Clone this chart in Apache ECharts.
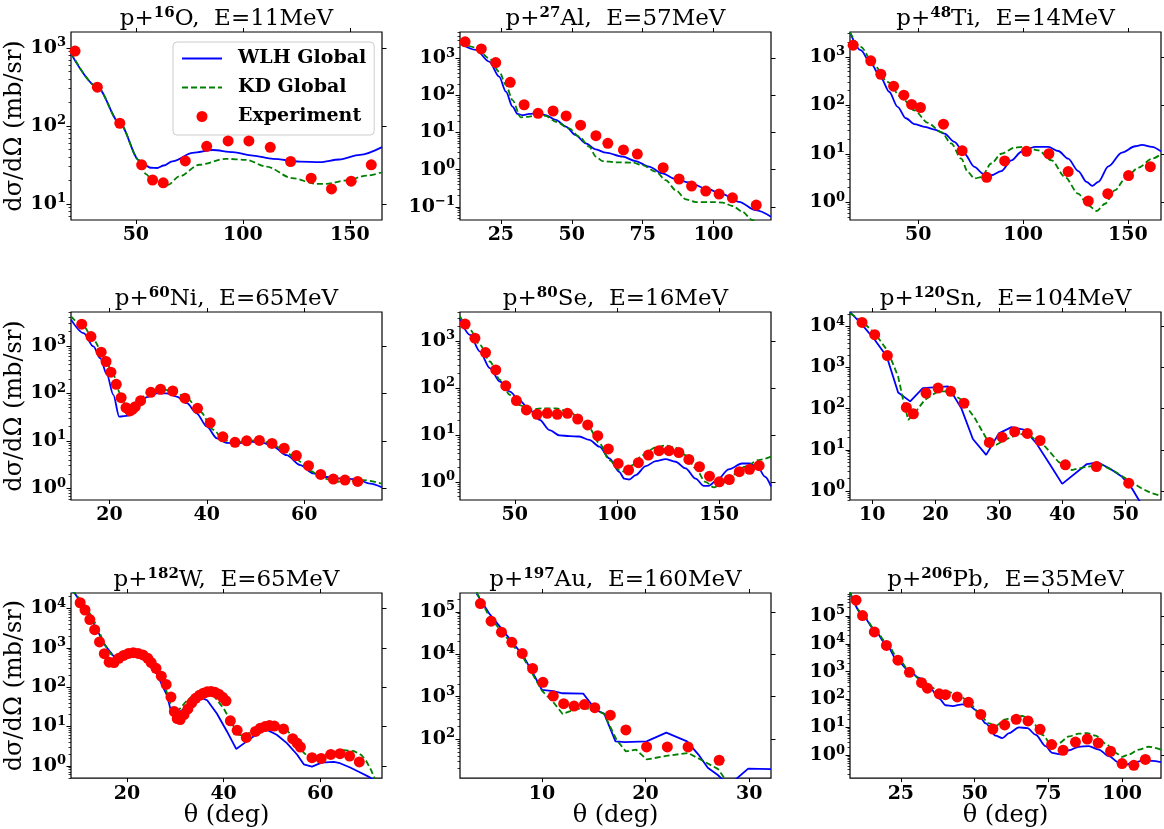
<!DOCTYPE html>
<html><head><meta charset="utf-8">
<script src="https://cdn.jsdelivr.net/npm/echarts@6/dist/echarts.min.js"></script>
<style>html,body{margin:0;padding:0;background:#fff}#c{width:1164px;height:829px}</style>
</head><body><div id="c"></div>
<script>
// ---------- data: [theta (deg), dsigma/dOmega (mb/sr)] ----------
const O16_wlh = [[19.7,845],[32,314],[42.5,108],[51.6,36],[54,31.5],[57,29],[60,28.8],[63,31],[67,35],[76.6,45],[86,49],[95.3,46],[104.7,41.6],[114,37.8],[126.6,34.7],[136,34.3],[145,37],[154.7,42.5],[165,53.4]];
const O16_kd  = [[19.7,870],[32,314],[42.5,108],[51.6,36],[54.7,24],[58,19.5],[62,17.3],[65,17.5],[70.3,22.5],[79.7,31.7],[92,37.8],[101.5,36.6],[111,30],[123,21.4],[134.4,18],[139,18],[148.4,20],[157.8,23],[165,25.4]];
const O16_exp = [[21.6,910],[32.0,314],[42.5,108],[52.7,31.6],[57.8,20.2],[62.8,18.6],[73.1,35.5],[83.1,54.6],[93.1,64],[102.8,64],[112.8,53],[122.3,34.9],[131.9,21.3],[141.4,15.5],[150.6,19.5],[160,31.6]];

const Al_wlh = [[10.6,2540],[16.2,1680],[20.9,815],[24.4,320],[26.8,126],[29.1,50],[30.9,31.6],[32.6,29.5],[35,31.6],[37.9,32.9],[40.8,29.5],[44.4,21.8],[47.9,14.5],[51.4,8.5],[54.9,5.1],[58.5,3.5],[62,2.86],[67.9,2.24],[72.5,1.7],[77.2,1.2],[81.9,0.79],[86.6,0.557],[91.3,0.45],[97.2,0.31],[103.1,0.22],[108.9,0.136],[114.8,0.081],[120.2,0.054]];
const Al_kd  = [[10.6,2700],[16.2,1940],[20.9,1000],[24.4,437],[26.8,190],[29.1,75],[32,25.7],[34.4,26.5],[37.9,29.5],[40.8,27.9],[44.4,19.5],[49.1,12.9],[52.6,7.7],[56.1,4.2],[58.5,2.24],[60.8,1.7],[65.5,1.57],[71.4,1.55],[74.9,1.33],[79.6,0.88],[83.1,0.52],[86.6,0.28],[90.2,0.158],[93.7,0.134],[99.5,0.134],[103.1,0.13],[106.6,0.105],[110.1,0.074],[113.6,0.044],[115,0.035]];
const Al_exp = [[12.4,2770],[18.1,1790],[23.2,765],[28.3,225],[33.2,56],[38.1,32.9],[43.4,38],[48,27.9],[53.1,15.8],[58.5,8.2],[62.7,5.1],[68.2,3.4],[73.1,2.63],[82.2,1.13],[87.8,0.56],[92.2,0.36],[97.2,0.265],[101.9,0.22],[106.6,0.174],[115,0.111]];

const Ti_wlh = [[17.4,3200],[22.5,1370],[27.3,730],[32.1,373],[36.1,190],[40.1,93],[44.1,54],[48.1,41],[52.9,36],[57.7,31.6],[62.5,26],[67.2,17.6],[72,10],[76.8,5.35],[80.8,3.9],[84.8,3.6],[89.6,4.4],[94.4,7.3],[99.2,11],[105.6,13.9],[112,13.9],[116.8,11.4],[121.5,7.9],[126.3,4.4],[130.3,2.63],[133,2.17],[135.9,2.63],[140.7,5.5],[147.1,10.6],[153.5,14.3],[156.7,15.2],[161.5,13.9],[165.8,11.2]];
const Ti_kd  = [[17.4,3200],[22.5,1610],[28.9,674],[35.3,304],[41.7,149],[48.1,79],[54.5,43.5],[60.9,28],[65.7,16.3],[70.5,7.9],[73.6,4.2],[76.8,3.1],[80,3.3],[84.8,6.3],[89.6,10],[96,13.4],[100.8,13.9],[107.2,11.8],[113.6,7.3],[120,3.3],[126.3,1.5],[131.1,0.86],[135.1,0.66],[139.1,0.93],[143.9,1.77],[148.7,3.1],[155.1,5.2],[161.5,7.9],[165.8,9.8]];
const Ti_exp = [[18.9,1740],[27.3,826],[32.1,437],[38.2,248],[43.1,162],[46.8,104],[51,90],[62,40.8],[70.9,11.6],[82.6,3.27],[91.2,7.1],[101.6,11.2],[112.3,10],[121.5,4.3],[131.1,1.06],[140.4,1.5],[150.3,3.55],[160.7,5.4]];

const Ni_wlh = [[12.1,3560],[14.7,1850],[16.7,970],[18.1,550],[19.5,245],[20.8,93],[22,32.4],[23.9,34],[25.6,48.5],[27.7,83],[29.7,100],[31.8,100],[33.8,85],[35.9,62],[37.9,38],[40,20],[42.1,11.3],[44,9.1],[46.2,8.9],[48.9,9.6],[51.6,9.1],[53.7,7.5],[56.4,5],[59.2,3.1],[61.9,2.07],[64,1.76],[67.4,1.62],[70.8,1.55],[73.6,1.26],[76,1.05]];
const Ni_kd  = [[12.1,4170],[14.7,2560],[16.7,1340],[18.8,645],[20.8,245],[22.2,100],[23.2,62],[24.2,48.5],[25.6,60],[27.7,100],[30.4,122],[33.2,113],[35.9,79],[38.6,41.5],[41.4,17],[43.4,10.5],[45.5,8.9],[48.2,10],[51,10.5],[53,8.9],[55.8,6.5],[58.5,4],[61.2,2.35],[64,1.62],[66.7,1.38],[69.4,1.42],[72.2,1.5],[76,1.26]];
const Ni_exp = [[14.3,2860],[16.2,1570],[18.3,735],[19.3,468],[20.3,279],[21.4,155],[22.4,81],[23.4,50],[24.2,42.7],[24.7,46],[25.3,52.5],[26.4,70],[28.5,105],[30.5,122],[33.0,112],[35.5,79],[38.1,48.5],[40.7,24],[43.3,12.2],[45.8,9.3],[48.2,10],[50.8,10.2],[53.4,8.85],[55.9,7.0],[58.4,4.9],[60.9,3.0],[63.4,1.97],[66.0,1.57],[68.4,1.5],[71.0,1.4]];

const Se_wlh = [[23.2,2900],[28.1,1340],[32.9,590],[37.8,262],[42.7,136],[47.6,83],[52.4,53],[57.3,34],[62.2,20.7],[67,12.6],[71.9,9.7],[76.8,9.4],[81.6,9.2],[86.5,7.8],[91.4,5.6],[96.3,3.16],[101.1,1.63],[103.6,1.17],[106,1.12],[109.2,1.39],[114.1,2.16],[119,2.75],[123.8,3.05],[128.7,2.67],[133.6,1.93],[138.5,1.17],[142.5,0.82],[144.9,0.82],[149,1.09],[154.7,1.84],[161.2,2.45],[165.2,2.45],[169.3,1.93],[172.5,1.28],[175.4,0.8]];
const Se_kd  = [[23.2,3300],[28.1,1720],[32.9,822],[37.8,363],[42.7,148],[47.6,71],[52.4,43],[57.3,35],[63.8,36.4],[70.3,36.4],[76.8,31],[81.6,22.4],[86.5,13.7],[91.4,6.6],[96.3,2.9],[101.1,1.78],[103.6,1.64],[107.6,2.27],[112.5,3.7],[119,5.4],[123.8,5.9],[128.7,5.3],[133.6,3.7],[138.5,1.93],[143.3,1.0],[147.4,0.76],[151.4,0.92],[156.3,1.39],[162.8,2.09],[169.3,2.9],[175.4,3.42]];
const Se_exp = [[25.7,2270],[30.5,1140],[35.7,563],[40.7,240],[45.6,110],[50.8,53.5],[55.7,33.9],[60.9,27.3],[65.9,28.7],[70.8,27.3],[75.8,28.7],[80.8,21.7],[85.7,16.2],[90.6,9.6],[95.8,5.0],[100.6,2.46],[105.7,1.78],[110.5,2.55],[115.4,3.7],[120.6,4.6],[125.5,4.6],[130.3,4.2],[135.2,3.0],[140.4,2.09],[145.3,1.32],[150.1,1.0],[155,1.12],[159.9,1.64],[164.9,1.84],[169.6,2.2]];

const Sn_wlh = [[6.5,22400],[8.4,11000],[10.4,4730],[12.3,1860],[14.1,246],[16,150],[18,316],[22,347],[24.1,100],[25.9,18.3],[28,7.5],[30,25],[32,35.5],[34.1,30.5],[35.9,14.5],[38.1,4.3],[40,1.48],[43.9,4.5],[45.7,4.9],[47.5,3.5],[49.4,2.24],[51,1.16],[52.1,0.6],[53,0.4]];
const Sn_kd  = [[6.5,21000],[8.4,13200],[10.4,6900],[12.5,2450],[14.1,600],[14.9,160],[15.7,53],[16.7,77],[18.3,164],[20.4,263],[22,263],[24.1,164],[26.2,59],[28.3,15.9],[29.6,13.2],[31.5,19],[33.3,24.5],[35.1,21],[37.3,12],[39.4,5.1],[41.5,3.2],[43.6,3.8],[46.2,4.3],[48.3,2.95],[50.4,1.85],[52.5,1.16],[54.1,0.88],[55.6,0.76]];
const Sn_exp = [[8.4,12500],[10.4,6300],[12.4,1950],[15.4,107],[16.5,75],[18.5,240],[20.4,316],[22.4,263],[24.5,136],[28.5,15.1],[30.5,20.2],[32.5,27.6],[34.5,25],[36.5,16.8],[40.5,4.3],[45.4,3.9],[50.5,1.54]];

const W_wlh = [[8.4,30000],[9.1,25000],[11.7,8300],[13.8,2880],[15.2,1260],[17.2,620],[18.3,540],[20,680],[22.1,680],[24.1,422],[26.2,215],[28.3,61],[29.3,19.5],[30,19.5],[31.4,26],[34.5,54],[35.2,54],[36.6,46.4],[38.6,21.5],[40.7,7.5],[42.6,2.7],[44.8,4.2],[47.6,7.5],[49,8.2],[51,6.2],[53.1,3.8],[55.2,1.95],[56.6,1.1],[58.3,0.96],[60.3,1.21],[62.8,1.26],[64.1,1.17],[66.2,0.91],[68.3,0.68],[70.3,0.51],[71,0.45]];
const W_kd  = [[8.4,30000],[9.1,25000],[11.7,10000],[13.8,3470],[15.2,1330],[16.6,708],[17.9,540],[20,720],[22.1,750],[24.1,513],[26.2,263],[27.9,100],[29,38],[29.7,22.4],[30.7,26],[32.4,46],[34.5,71],[35.9,79],[37.9,61],[40,29],[42.1,10],[43.1,6.2],[44.5,5.8],[46.2,8.2],[49,11.5],[51,11.7],[53.1,8.2],[55.2,3.8],[56.6,2.15],[58,1.55],[60.1,1.78],[62.8,2.24],[64.9,2.5],[67,2.37],[68.5,1.9],[69.5,1.35],[70.5,0.8],[71.3,0.47]];
const W_exp = [[10.3,13900],[11.3,9100],[12.3,5200],[13.3,2880],[14.3,1410],[15.3,710],[16.3,430],[17.3,420],[18.3,540],[19.3,640],[20.3,720],[21.3,750],[22.3,720],[23.3,660],[24.3,540],[25.0,422],[26.0,300],[27.1,190],[28.1,117],[29.1,56],[29.8,24],[30.4,16],[31.0,15],[31.8,20],[32.6,28],[33.4,40],[34.2,52],[35.0,62],[35.8,70],[36.6,76],[37.4,78],[38.2,74],[39.0,66],[39.8,55],[40.5,45],[41.4,14],[42.8,8],[44.7,5.3],[46.6,7.5],[47.6,9.1],[48.6,10],[49.5,10.6],[50.5,10.3],[52.4,8.7],[54.3,4.9],[55.2,3.8],[55.9,3.0],[58.3,1.62],[60.2,1.55],[62.2,1.95],[64.1,2.04],[66.1,1.78],[68.1,1.26]];

const Au_wlh = [[3.7,268000],[4.9,92000],[6.1,40000],[7.2,18600],[8.2,9100],[9.1,3700],[10,1450],[11.1,1350],[12,1200],[14,1170],[15.2,480],[16,400],[17.1,88],[18,85],[20.1,88],[22,142],[24,88],[25.1,43],[26,21],[27,14],[28,8],[29.9,20],[32.1,19.5]];
const Au_kd  = [[3.7,290000],[4.9,79000],[6.1,34500],[7.2,16300],[8.2,8300],[9.1,3400],[10,1380],[11.1,740],[12,390],[13,480],[14,540],[15.2,480],[16,390],[17.2,96],[18.1,51],[19.1,56],[20.1,33],[22,40],[24.1,47],[25.6,30],[27,19.5],[27.6,12],[28,9]];
const Au_exp = [[4.07,156000],[5.1,60000],[6.1,33000],[7.1,19000],[8.1,10400],[9.1,4600],[10.1,2170],[11.1,1030],[12.1,680],[13.1,600],[14.1,650],[15.1,550],[16.6,366],[18.1,164],[20.1,65],[22.1,65],[24.1,65],[27.1,31.6]];

const Pb_wlh = [[7.75,700000],[12,108000],[16,32000],[19.9,10000],[23.9,2400],[27.8,1070],[31.2,590],[34.6,290],[38,107],[40.2,62],[42.5,58],[45.9,67],[48.1,62],[50.4,41.5],[53.8,13.8],[57.1,5.0],[59.4,4.1],[61.7,6.2],[65,10],[67.9,9.3],[70.7,5.4],[74.1,2.1],[76.3,1.21],[79.1,1.06],[82,1.5],[85.3,2.0],[88.7,2.1],[92.1,1.58],[95.5,0.92],[98.9,0.54],[101.1,0.44],[103.4,0.54],[106.8,0.62],[110.2,0.62],[113.2,0.56]];
const Pb_kd  = [[7.75,700000],[12,115000],[16,35000],[19.9,11700],[23.9,3160],[27.8,1120],[31.2,550],[34.6,290],[38,209],[41.4,182],[44.7,140],[48.1,81],[51.5,31.6],[54.9,13.8],[57.1,11.2],[60.5,19.3],[63.9,25],[66.2,25.5],[69.6,15.9],[72.9,5.4],[76.3,2.2],[78.6,2.73],[82,4.7],[85.3,5.9],[88.2,6.2],[91,5],[94.4,2.6],[97.8,1.21],[100,0.87],[102.3,1.06],[105.7,1.58],[109,2.0],[113.2,1.58]];
const Pb_exp = [[9.8,368000],[12.0,103000],[16.0,26500],[20.1,8700],[24,2570],[27.9,940],[32,400],[34,255],[38,160],[40.1,148],[44.1,123],[47.9,79],[52.1,29],[56.2,8.7],[60.2,12.2],[64.1,19.3],[68.1,17],[72.2,8.5],[76.1,2.4],[80,1.5],[84.2,2.95],[88.2,3.8],[91.9,2.73],[96.1,1.38],[100,0.5],[104,0.43],[107.9,0.7]];

// ---------- panel labels and axis limits ----------
const massNumbers = ['16','27','48','60','80','120','182','197','206'];
const elements    = ['O','Al','Ti','Ni','Se','Sn','W','Au','Pb'];
const energies    = ['11','57','14','65','16','104','65','160','35'];
const xLimits = [[19.7,165],[10.6,120.2],[17.4,165.8],[12.1,76],[23.2,175.4],[6.5,55.6],[8.4,72.8],[2.1,32.1],[7.75,113.2]];
const yLimits = [[6.2,1600],[0.044,5100],[0.43,3250],[0.57,5150],[0.41,4100],[0.6,22400],[0.49,24600],[12,277000],[0.15,665000]];
const xTicks  = [[50,100,150],[25,50,75,100],[50,100,150],[20,40,60],[50,100,150],[10,20,30,40,50],[20,40,60],[10,20,30],[25,50,75,100]];
const wlhData = [O16_wlh,Al_wlh,Ti_wlh,Ni_wlh,Se_wlh,Sn_wlh,W_wlh,Au_wlh,Pb_wlh];
const kdData  = [O16_kd,Al_kd,Ti_kd,Ni_kd,Se_kd,Sn_kd,W_kd,Au_kd,Pb_kd];
const expData = [O16_exp,Al_exp,Ti_exp,Ni_exp,Se_exp,Sn_exp,W_exp,Au_exp,Pb_exp];
const smoothCurves = [true,true,true,true,true,false,false,false,true];
const seriesNames = ['WLH Global','KD Global','Experiment'];

// ---------- layout ----------
const colLeft = [71, 460, 850];
const rowTop = [32, 312, 593];
const GW = 311, GH = 188;
const FONT = 'DejaVu Serif';

function decades(lim){
  const out=[]; for(let e=-3;e<=7;e++){const v=Math.pow(10,e); if(v>=lim[0]&&v<=lim[1]) out.push(v);} return out;
}
function minors(lim){
  const out=[]; for(let e=-3;e<=7;e++){for(let k=2;k<=9;k++){const v=k*Math.pow(10,e); if(v>=lim[0]&&v<=lim[1]) out.push(v);}} return out;
}
function logLabel(v){
  const e=Math.round(Math.log10(v));
  return '{b|10}{s|'+(e<0?'\u2212'+(-e):e)+'}';
}

const grids=[], xAxes=[], yAxes=[], series=[], titles=[];
for(let i=0;i<9;i++){
  const r=Math.floor(i/3), c=i%3;
  const left=colLeft[c], top=rowTop[r];
  grids.push({left:left, top:top, width:GW, height:GH, show:true, borderColor:'#000', borderWidth:1.2, backgroundColor:'rgba(0,0,0,0)'});
  titles.push({
    text:'{n|p+}{s|'+massNumbers[i]+'}{n|'+elements[i]+',  E='+energies[i]+'MeV}',
    left:left+GW/2, top:top-26, textAlign:'center', padding:0,
    textStyle:{fontWeight:'normal', rich:{
      n:{fontFamily:FONT,fontSize:23,fontWeight:'normal',color:'#000',lineHeight:27},
      s:{fontFamily:FONT,fontWeight:'bold',fontSize:15,color:'#000',lineHeight:14,verticalAlign:'top'}
    }}
  });
  const xl=xLimits[i], yl=yLimits[i], dec=decades(yl);
  xAxes.push({type:'value', gridIndex:i, position:'bottom', min:xl[0], max:xl[1],
    axisLine:{show:false}, splitLine:{show:false},
    axisTick:{show:true, length:4, customValues:xTicks[i], lineStyle:{color:'#000',width:1}},
    axisLabel:{customValues:xTicks[i], margin:6, color:'#000', fontFamily:FONT, fontWeight:'bold', fontSize:19},
    name: r===2 ? '\u03B8 (deg)' : '', nameLocation:'middle', nameGap:15,
    nameTextStyle:{fontFamily:FONT, fontSize:24, color:'#000'}
  });
  xAxes.push({type:'value', gridIndex:i, position:'top', min:xl[0], max:xl[1],
    axisLine:{show:false}, splitLine:{show:false},
    axisTick:{show:true, length:4, customValues:xTicks[i], lineStyle:{color:'#000',width:1}},
    axisLabel:{show:false}
  });
  yAxes.push({type:'log', logBase:10, gridIndex:i, position:'left', min:yl[0], max:yl[1],
    axisLine:{show:false}, splitLine:{show:false},
    axisTick:{show:true, length:4.5, customValues:dec, lineStyle:{color:'#000',width:1}},
    axisLabel:{customValues:dec, formatter:logLabel, margin:5, rich:{
      b:{fontFamily:FONT,fontWeight:'bold',fontSize:19,lineHeight:23,color:'#000'},
      s:{fontFamily:FONT,fontWeight:'bold',fontSize:13,lineHeight:12,verticalAlign:'top',color:'#000'}
    }},
    name: c===0 ? 'd\u03C3/d\u03A9 (mb/sr)' : '', nameLocation:'middle', nameRotate:90, nameGap:43,
    nameTextStyle:{fontFamily:FONT, fontSize:24, color:'#000'}
  });
  yAxes.push({type:'log', logBase:10, gridIndex:i, position:'left', min:yl[0], max:yl[1],
    axisLine:{show:false}, splitLine:{show:false},
    axisTick:{show:true, length:2.5, customValues:minors(yl), lineStyle:{color:'#000',width:0.8}},
    axisLabel:{show:false}
  });
  yAxes.push({type:'log', logBase:10, gridIndex:i, position:'right', min:yl[0], max:yl[1],
    axisLine:{show:false}, splitLine:{show:false},
    axisTick:{show:true, length:4.5, customValues:dec, lineStyle:{color:'#000',width:1}},
    axisLabel:{show:false}
  });
  const sm = smoothCurves[i] ? 0.3 : false;
  series.push({type:'line', name:seriesNames[0], xAxisIndex:2*i, yAxisIndex:3*i, data:wlhData[i],
    symbol:'none', showSymbol:false, smooth:sm, smoothMonotone:'x', clip:true,
    lineStyle:{color:'#0000ff', width:1.8}, itemStyle:{color:'#0000ff'}, z:2});
  series.push({type:'line', name:seriesNames[1], xAxisIndex:2*i, yAxisIndex:3*i, data:kdData[i],
    symbol:'none', showSymbol:false, smooth:sm, smoothMonotone:'x', clip:true,
    lineStyle:{color:'#008000', width:1.8, type:[6,3]}, itemStyle:{color:'#008000'}, z:3});
  series.push({type:'scatter', name:seriesNames[2], xAxisIndex:2*i, yAxisIndex:3*i, data:expData[i],
    symbol:'circle', symbolSize:11, clip:true, itemStyle:{color:'#ff0000', opacity:1}, z:4});
}

const chart = echarts.init(document.getElementById('c'), null, {renderer:'canvas'});
chart.setOption({
  animation:false,
  backgroundColor:'#ffffff',
  title:titles,
  grid:grids,
  xAxis:xAxes,
  yAxis:yAxes,
  legend:{
    data:[
      {name:seriesNames[0], itemStyle:{opacity:0, borderWidth:0}},
      {name:seriesNames[1], itemStyle:{opacity:0, borderWidth:0}},
      {name:seriesNames[2]}
    ],
    orient:'vertical', left:173, top:42,
    itemWidth:40, itemHeight:11, itemGap:10, padding:[7,8,9,8],
    backgroundColor:'#ffffff', borderColor:'#cccccc', borderWidth:1, borderRadius:4,
    selectedMode:false,
    textStyle:{fontFamily:FONT, fontWeight:'bold', fontSize:19, color:'#000', lineHeight:18, padding:[0,0,0,11]}
  },
  series:series
});
</script>
</body></html>
